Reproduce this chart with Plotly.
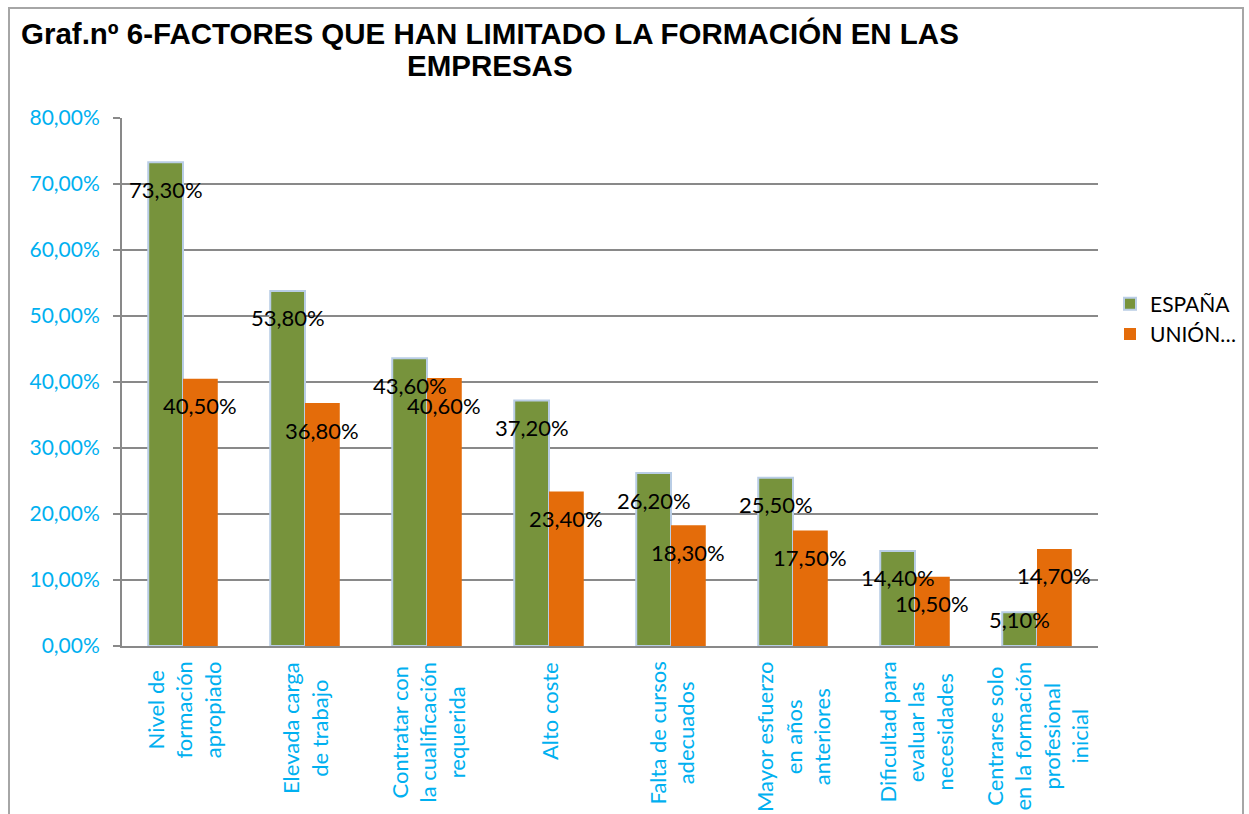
import plotly.graph_objects as go

categories = [
    "Nivel de<br>formación<br>apropiado",
    "Elevada carga<br>de trabajo",
    "Contratar con<br>la cualificación<br>requerida",
    "Alto coste",
    "Falta de cursos<br>adecuados",
    "Mayor esfuerzo<br>en años<br>anteriores",
    "Dificultad para<br>evaluar las<br>necesidades",
    "Centrarse solo<br>en la formación<br>profesional<br>inicial",
]
espana = [73.3, 53.8, 43.6, 37.2, 26.2, 25.5, 14.4, 5.1]
union = [40.5, 36.8, 40.6, 23.4, 18.3, 17.5, 10.5, 14.7]
series_names = ["ESPAÑA", "UNIÓN…"]
title_lines = ["Graf.nº 6-FACTORES QUE HAN LIMITADO LA FORMACIÓN EN LAS", "EMPRESAS"]

W, H = 1249, 814
ML, MR, MT, MB = 122, 151, 118, 168
plot_w = W - ML - MR
plot_h = H - MT - MB
ymax = 80
bargap = 0.43
bar_w = (1 - bargap) / 2
px_per_unit = plot_h / ymax

GREEN = "#77933c"
ORANGE = "#e46c0a"
BLUE_TXT = "#00b0f0"
GRID = "#898989"


def px_x(px):
    return (px - ML) / plot_w


def px_y(px):
    return (H - MB - px) / plot_h


idx = list(range(len(categories)))

fig = go.Figure()
fig.add_trace(go.Bar(
    x=idx, y=espana, name=series_names[0],
    marker=dict(color=GREEN, line=dict(color="#b9cde5", width=2)),
))
fig.add_trace(go.Bar(
    x=idx, y=union, name=series_names[1],
    marker=dict(color=ORANGE, line=dict(width=0)),
))


def fmt(v):
    return f"{v:.2f}".replace(".", ",") + "%"


annotations = []
for line, ypx in zip(title_lines, (34, 65)):
    annotations.append(dict(
        x=px_x(490), y=px_y(ypx), xref="paper", yref="paper", text=line,
        showarrow=False, xanchor="center", yanchor="middle", align="center",
        font=dict(family="Liberation Sans", size=29.5, color="#000000", weight="bold"),
    ))
for series, sign in ((espana, -1), (union, 1)):
    for i, v in enumerate(series):
        shift = min(27, v * px_per_unit - 26)
        annotations.append(dict(
            x=i + sign * bar_w / 2, y=v, xref="x", yref="y",
            text=fmt(v), showarrow=False, yshift=-shift,
            xanchor="center", yanchor="middle",
            font=dict(family="Lato", size=22, color="#000000"),
        ))

for i, c in enumerate(categories):
    annotations.append(dict(
        x=i, y=0, xref="x", yref="paper", text=c, showarrow=False,
        textangle=-90, xanchor="center", yanchor="top", yshift=-14,
        align="center",
        font=dict(family="Lato", size=22, color=BLUE_TXT),
    ))

fig.update_layout(
    width=W, height=H,
    margin=dict(l=ML, r=MR, t=MT, b=MB, autoexpand=False),
    paper_bgcolor="white", plot_bgcolor="white",
    barmode="group", bargap=bargap, bargroupgap=0,
    separators=",.",
    xaxis=dict(
        range=[-0.5, len(categories) - 0.5], showticklabels=False,
        showgrid=False, zeroline=False, showline=True, linecolor=GRID, linewidth=2,
        ticks="",
    ),
    yaxis=dict(
        range=[0, ymax], dtick=10, tickformat=".2f", ticksuffix="%",
        showgrid=True, gridcolor=GRID, gridwidth=2, zeroline=False,
        showline=True, linecolor=GRID, linewidth=2,
        ticks="outside", ticklen=7, tickcolor=GRID, tickwidth=2,
        tickfont=dict(family="Lato", size=21, color=BLUE_TXT),
        ticklabelstandoff=9,
    ),
    legend=dict(
        x=px_x(1110), xanchor="left", y=px_y(319), yanchor="middle",
        font=dict(family="Lato", size=21, color="#000000"),
        bgcolor="rgba(0,0,0,0)", tracegroupgap=2, itemwidth=30,
    ),
    annotations=annotations,
    shapes=[dict(
        type="rect", xref="paper", yref="paper",
        x0=px_x(9), x1=px_x(1243),
        y0=px_y(H + 30), y1=px_y(8),
        line=dict(color="#a6a6a6", width=2), layer="below",
    )],
)

fig.write_html(
    "out.html",
    config={"displayModeBar": False},
    post_script="document.body.style.margin='0';document.body.style.overflow='hidden';",
)
